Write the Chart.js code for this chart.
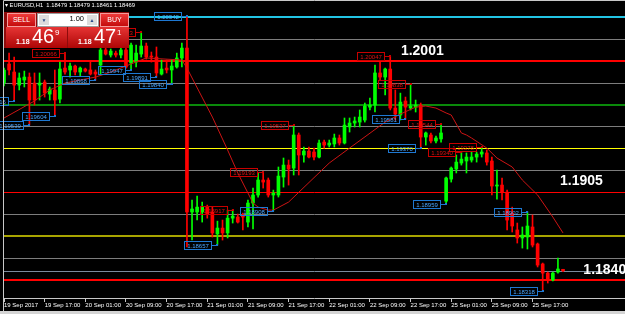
<!DOCTYPE html>
<html>
<head>
<meta charset="utf-8">
<script src="https://cdn.jsdelivr.net/npm/chart.js@4.4.0/dist/chart.umd.min.js"></script>
<style>
  html, body { margin: 0; padding: 0; background: #000; }
  #wrap { position: relative; width: 625px; height: 314px; overflow: hidden; background: #000; }
  #chart { position: absolute; left: 0; top: 0; }
  #title { position: absolute; left: 5px; top: 2px; color: #fff; font: 5.8px "Liberation Sans", Arial, sans-serif; white-space: nowrap; }
  #panel { position: absolute; left: 4px; top: 12px; width: 125px; height: 36px; background: #8e0b0b; }
  .btn { position: absolute; top: 1px; width: 27px; height: 12px; border: 1px solid #f59a9a; color: #fff;
         background: linear-gradient(#ef3a3a, #c40c0c); font: 7px "Liberation Sans", Arial, sans-serif;
         text-align: center; line-height: 12px; }
  #sell { left: 3px; }
  #buy { left: 96px; }
  #lot { position: absolute; left: 33px; top: 1px; width: 60px; height: 12px; background: #fff; border: 1px solid #9a9a9a; }
  .spin { position: absolute; top: 1px; width: 10px; height: 10px; background: #dcdcdc; color: #2a4a8a;
          font: 5px Arial, sans-serif; text-align: center; line-height: 10px; }
  #dn { left: 1px; } #up { right: 1px; }
  #lotv { position: absolute; right: 14px; top: 0; line-height: 12px; font: 7.5px "Liberation Sans", Arial, sans-serif; color: #000; }
  .px { position: absolute; top: 15px; width: 61px; height: 21px; background: linear-gradient(#e63434, #ad0606); color: #fff;
        font-family: "Liberation Sans", Arial, sans-serif; }
  #bid { left: 2px; } #ask { left: 64px; }
  .big { position: absolute; top: -1px; font-size: 20px; line-height: 20px; }
  .sm { position: absolute; top: 11px; font-size: 7px; font-weight: bold; line-height: 8px; }
  .sup { position: absolute; top: 2px; font-size: 8px; line-height: 8px; }
  #bottom { position: absolute; left: 0; top: 311px; width: 625px; height: 3px; background: #d4d4d4; }
</style>
</head>
<body>
<div id="wrap">
  <canvas id="chart" width="625" height="314"></canvas>
  <div id="title">&#9662; EURUSD,H1&nbsp; 1.18479 1.18479 1.18461 1.18469</div>
  <div id="panel">
    <div class="btn" id="sell">SELL</div>
    <div id="lot"><div class="spin" id="dn">&#9660;</div><span id="lotv">1.00</span><div class="spin" id="up">&#9650;</div></div>
    <div class="btn" id="buy">BUY</div>
    <div class="px" id="bid"><span class="sm" style="left:10px">1.18</span><span class="big" style="left:26px">46</span><span class="sup" style="left:49px">9</span></div>
    <div class="px" id="ask"><span class="sm" style="left:10px">1.18</span><span class="big" style="left:26px">47</span><span class="sup" style="left:49px">1</span></div>
  </div>
  <div id="bottom"></div>
</div>
<script>
// EURUSD H1 candles, 19 Sep 09:00 .. 25 Sep 23:00
const opens = [
  1.19848, 1.19988, 1.19929, 1.19833, 1.19870, 1.19892, 1.19848, 1.19833, 1.19855, 1.19767,
  1.19797, 1.19730, 1.19958, 1.19944, 1.19973, 1.19929, 1.19951, 1.19944, 1.19929, 1.19980,
  1.20091, 1.20054, 1.20068, 1.20054, 1.20091, 1.19995, 1.20002, 1.20061, 1.20120, 1.20046,
  1.20039, 1.19914, 1.19958, 1.19944, 1.19966, 1.20032, 1.20105, 1.18900, 1.18900, 1.18900,
  1.18936, 1.18900, 1.18739, 1.18782, 1.18746, 1.18855, 1.18863, 1.18878, 1.18826, 1.18966,
  1.19025, 1.19135, 1.19135, 1.19025, 1.19025, 1.19157, 1.19245, 1.19223, 1.19466, 1.19319,
  1.19348, 1.19341, 1.19304, 1.19414, 1.19392, 1.19400, 1.19444, 1.19407, 1.19525, 1.19554,
  1.19561, 1.19576, 1.19671, 1.19686, 1.19922, 1.19892, 1.19951, 1.19664, 1.19613, 1.19716,
  1.19664, 1.19671, 1.19686, 1.19451, 1.19466, 1.19422, 1.19437, 1.18980, 1.19142, 1.19216,
  1.19260, 1.19275, 1.19282, 1.19304, 1.19326, 1.19334, 1.19275, 1.19091, 1.19098, 1.19046,
  1.18892, 1.18768, 1.18709, 1.18716, 1.18790, 1.18665, 1.18518, 1.18451, 1.18400, 1.18459,
  1.18479
];
const highs = [
  1.19958, 1.20068, 1.20039, 1.19922, 1.19936, 1.19922, 1.19922, 1.19922, 1.19870, 1.19819,
  1.19944, 1.20002, 1.20066, 1.19995, 1.19980, 1.19966, 1.19958, 1.20002, 1.19944, 1.20105,
  1.20105, 1.20098, 1.20083, 1.20105, 1.20105, 1.20142, 1.20127, 1.20223, 1.20142, 1.20076,
  1.20113, 1.20017, 1.20017, 1.20017, 1.20068, 1.20142, 1.20342, 1.18988, 1.19017, 1.18973,
  1.18951, 1.18936, 1.18833, 1.18841, 1.18914, 1.18917, 1.18885, 1.18892, 1.18988, 1.19076,
  1.19187, 1.19193, 1.19150, 1.19061, 1.19231, 1.19297, 1.19282, 1.19537, 1.19481, 1.19378,
  1.19378, 1.19370, 1.19429, 1.19429, 1.19429, 1.19473, 1.19466, 1.19591, 1.19591, 1.19598,
  1.19650, 1.19701, 1.19738, 1.19980, 1.20002, 1.19958, 1.20047, 1.19797, 1.19774, 1.19745,
  1.19838, 1.19723, 1.19701, 1.19488, 1.19481, 1.19458, 1.19544, 1.19157, 1.19231, 1.19319,
  1.19340, 1.19334, 1.19341, 1.19341, 1.19378, 1.19356, 1.19304, 1.19209, 1.19150, 1.19061,
  1.18936, 1.18819, 1.18790, 1.18902, 1.18878, 1.18672, 1.18525, 1.18459, 1.18459, 1.18562,
  1.18479
];
const lows = [
  1.19826, 1.19907, 1.19716, 1.19797, 1.19819, 1.19539, 1.19686, 1.19723, 1.19745, 1.19723,
  1.19604, 1.19701, 1.19914, 1.19892, 1.19907, 1.19900, 1.19929, 1.19907, 1.19868, 1.19907,
  1.20054, 1.20039, 1.20039, 1.20032, 1.19958, 1.19947, 1.19966, 1.20039, 1.20024, 1.20002,
  1.19891, 1.19907, 1.19922, 1.19840, 1.19958, 1.19966, 1.18643, 1.18694, 1.18841, 1.18826,
  1.18855, 1.18716, 1.18657, 1.18694, 1.18709, 1.18819, 1.18819, 1.18768, 1.18790, 1.18775,
  1.19010, 1.19076, 1.19010, 1.18908, 1.19010, 1.19083, 1.19098, 1.19172, 1.19172, 1.19267,
  1.19297, 1.19282, 1.19297, 1.19370, 1.19378, 1.19378, 1.19392, 1.19400, 1.19488, 1.19525,
  1.19525, 1.19561, 1.19650, 1.19635, 1.19870, 1.19760, 1.19650, 1.19576, 1.19576, 1.19581,
  1.19650, 1.19635, 1.19370, 1.19392, 1.19407, 1.19407, 1.19414, 1.18959, 1.19120, 1.19187,
  1.19245, 1.19187, 1.19267, 1.19267, 1.19304, 1.19245, 1.19025, 1.18995, 1.18988, 1.18768,
  1.18753, 1.18672, 1.18635, 1.18628, 1.18643, 1.18496, 1.18318, 1.18378, 1.18393, 1.18451,
  1.18461
];
const closes = [
  1.19944, 1.19944, 1.19833, 1.19885, 1.19892, 1.19723, 1.19723, 1.19848, 1.19774, 1.19804,
  1.19723, 1.19951, 1.19929, 1.19973, 1.19929, 1.19958, 1.19936, 1.19914, 1.19914, 1.20091,
  1.20061, 1.20083, 1.20054, 1.20091, 1.19966, 1.20127, 1.20068, 1.20120, 1.20039, 1.20039,
  1.19922, 1.19951, 1.19944, 1.19973, 1.20032, 1.20105, 1.18900, 1.18922, 1.18936, 1.18936,
  1.18885, 1.18746, 1.18782, 1.18746, 1.18855, 1.18870, 1.18826, 1.18863, 1.18966, 1.19025,
  1.19135, 1.19120, 1.19025, 1.19039, 1.19164, 1.19245, 1.19216, 1.19466, 1.19319, 1.19348,
  1.19304, 1.19304, 1.19407, 1.19392, 1.19407, 1.19444, 1.19407, 1.19539, 1.19554, 1.19569,
  1.19598, 1.19679, 1.19686, 1.19922, 1.19892, 1.19951, 1.19664, 1.19620, 1.19708, 1.19671,
  1.19679, 1.19686, 1.19451, 1.19481, 1.19422, 1.19444, 1.19481, 1.19150, 1.19223, 1.19267,
  1.19289, 1.19304, 1.19304, 1.19326, 1.19341, 1.19267, 1.19091, 1.19098, 1.19046, 1.18841,
  1.18797, 1.18709, 1.18731, 1.18797, 1.18657, 1.18510, 1.18451, 1.18400, 1.18451, 1.18481,
  1.18469
];

// moving average (bar index -> price)
const maBars   = [0, 6, 9, 12, 18, 21, 25, 28, 35, 36, 41, 44, 46, 49, 50, 52, 53, 56, 64, 68,
                  75, 78, 81, 83, 85, 87, 88, 90, 91, 92, 95, 97, 100, 102, 105, 108, 110];
const maPrices = [1.19591, 1.19716, 1.19797, 1.19848, 1.19892, 1.19929, 1.19988, 1.20032, 1.20017, 1.19958,
                  1.19598, 1.19356, 1.19187, 1.18966, 1.18936, 1.18914, 1.18914, 1.18973, 1.19260, 1.19370,
                  1.19561, 1.19620, 1.19671, 1.19679, 1.19664, 1.19628, 1.19613, 1.19481, 1.19466, 1.19444,
                  1.19370, 1.19297, 1.19231, 1.19135, 1.19025, 1.18863, 1.18746];

// time axis: one label every 8 bars
const tickLabels = ["19 Sep 2017", "19 Sep 17:00", "20 Sep 01:00", "20 Sep 09:00", "20 Sep 17:00",
                    "21 Sep 01:00", "21 Sep 09:00", "21 Sep 17:00", "22 Sep 01:00", "22 Sep 09:00",
                    "22 Sep 17:00", "25 Sep 01:00", "25 Sep 09:00", "25 Sep 17:00"];
const tickStep = 8;
const slotCount = 123; // visible bar slots incl. empty space on the right

// horizontal levels
const levelPrices = [1.20335, 1.20171, 1.20010, 1.19850, 1.19690, 1.19532, 1.19370,
                     1.19209, 1.19050, 1.18885, 1.18724, 1.18560, 1.18469, 1.18400];
const levelColors = ['#22c4e4', '#7d7d7d', '#ff0000', '#7d7d7d', '#0a8a0a', '#7d7d7d', '#ffff00',
                     '#7d7d7d', '#ff0000', '#7d7d7d', '#a8a400', '#7d7d7d', '#7a8a9c', '#ff0000'];
const levelWidths = [2, 1, 2, 1, 2, 1, 1, 1, 1, 1, 2, 1, 1, 2];

// big level captions
const captionPrices = [1.2001, 1.1905, 1.1840];
const captionBars = [78.1, 109.4, 114.0];

// fractal tags
const hiBars   = [12, 27, 45, 51, 57, 76, 80, 86, 90, 94];
const hiPrices = [1.20066, 1.20223, 1.18917, 1.19193, 1.19537, 1.20047, 1.19838, 1.19544, 1.19340, 1.19378];
const loBars   = [2, 5, 10, 18, 25, 30, 33, 36, 42, 53, 79, 82, 87, 103, 106];
const loPrices = [1.19716, 1.19539, 1.19604, 1.19868, 1.19947, 1.19891, 1.19840, 1.20342, 1.18657,
                  1.18908, 1.19581, 1.19370, 1.18959, 1.18902, 1.18318];

const BULL = '#00ff00';
const BEAR = '#ff0000';
const candleColors = closes.map((c, i) => c > opens[i] ? BULL : BEAR);
const slots = Array.from({ length: slotCount }, (_, i) => i);

const levelsPlugin = {
  id: 'levels',
  beforeDatasetsDraw(chart) {
    const { ctx, chartArea, scales: { y } } = chart;
    ctx.save();
    levelPrices.forEach((p, i) => {
      const py = y.getPixelForValue(p);
      const w = levelWidths[i];
      ctx.strokeStyle = levelColors[i];
      ctx.lineWidth = w;
      const yy = w % 2 ? Math.round(py) + 0.5 : Math.round(py);
      ctx.beginPath();
      ctx.moveTo(chartArea.left, yy);
      ctx.lineTo(chartArea.right + 1, yy);
      ctx.stroke();
    });
    ctx.restore();
  }
};

function drawTag(ctx, x, y, text, color, textColor) {
  const w = 27, h = 8;
  const right = Math.round(x) - 6;
  const yy = Math.round(y) + 0.5;
  ctx.strokeStyle = color;
  ctx.lineWidth = 1;
  ctx.strokeRect(right - w + 0.5, Math.round(y - h / 2) + 0.5, w, h);
  ctx.beginPath();
  ctx.moveTo(right, yy);
  ctx.lineTo(Math.round(x), yy);
  ctx.stroke();
  ctx.fillStyle = color;
  ctx.fillRect(Math.round(x) - 1, Math.round(y) - 1, 2, 2);
  ctx.fillStyle = textColor;
  ctx.font = '6px "Liberation Sans", Arial, sans-serif';
  ctx.textAlign = 'center';
  ctx.textBaseline = 'middle';
  ctx.fillText(text, right - w / 2 + 0.5, yy + 0.5);
}

const tagsPlugin = {
  id: 'tags',
  afterDatasetsDraw(chart) {
    const { ctx, scales: { x, y } } = chart;
    ctx.save();
    hiBars.forEach((b, i) => drawTag(ctx, x.getPixelForValue(b), y.getPixelForValue(hiPrices[i]),
      hiPrices[i].toFixed(5), '#c80000', '#e01010'));
    loBars.forEach((b, i) => drawTag(ctx, x.getPixelForValue(b), y.getPixelForValue(loPrices[i]),
      loPrices[i].toFixed(5), '#1e78d2', '#4aa6ff'));
    // level captions
    ctx.fillStyle = '#ffffff';
    ctx.font = 'bold 14px "Liberation Sans", Arial, sans-serif';
    ctx.textAlign = 'left';
    ctx.textBaseline = 'bottom';
    captionPrices.forEach((p, i) => {
      ctx.fillText(p.toFixed(4), x.getPixelForValue(captionBars[i]), y.getPixelForValue(p) - 3);
    });
    // chart frame
    ctx.strokeStyle = '#c8c8c8';
    ctx.lineWidth = 1;
    ctx.beginPath();
    ctx.moveTo(3.5, 311);
    ctx.lineTo(3.5, 0.5);
    ctx.lineTo(625, 0.5);
    ctx.stroke();
    ctx.restore();
  }
};

new Chart(document.getElementById('chart'), {
  type: 'bar',
  data: {
    labels: slots,
    datasets: [
      {
        type: 'line',
        data: maBars.map((b, i) => ({ x: b, y: maPrices[i] })),
        borderColor: '#cc1414',
        borderWidth: 1,
        pointRadius: 0,
        spanGaps: true,
        tension: 0,
        order: 0
      },
      {
        data: highs.map((h, i) => [lows[i], h]),
        backgroundColor: candleColors,
        barThickness: 1,
        grouped: false,
        order: 2
      },
      {
        data: opens.map((o, i) => [o, closes[i]]),
        backgroundColor: candleColors,
        barThickness: 3,
        minBarLength: 1,
        grouped: false,
        order: 1
      }
    ]
  },
  options: {
    responsive: false,
    animation: false,
    events: [],
    layout: { padding: { top: 1, left: 4, right: 1, bottom: 0 } },
    plugins: { legend: { display: false }, tooltip: { enabled: false } },
    scales: {
      x: {
        type: 'category',
        offset: false,
        grid: {
          offset: false,
          drawOnChartArea: false,
          drawTicks: true,
          tickLength: 4,
          color: ctx => (ctx.index % tickStep === 0 && ctx.index / tickStep < tickLabels.length) ? '#c8c8c8' : 'rgba(0,0,0,0)'
        },
        border: { display: true, color: '#c8c8c8', width: 1 },
        ticks: {
          autoSkip: false,
          maxRotation: 0,
          minRotation: 0,
          align: 'start',
          padding: 0,
          color: '#ffffff',
          font: { size: 6, family: '"Liberation Sans", Arial, sans-serif' },
          callback: (v, i) => (i % tickStep === 0 && i / tickStep < tickLabels.length) ? tickLabels[i / tickStep] : ''
        },
        afterFit: s => { s.height = 16; }
      },
      y: {
        display: false,
        min: 1.18268,
        max: 1.20451
      }
    }
  },
  plugins: [levelsPlugin, tagsPlugin]
});
</script>
</body>
</html>
